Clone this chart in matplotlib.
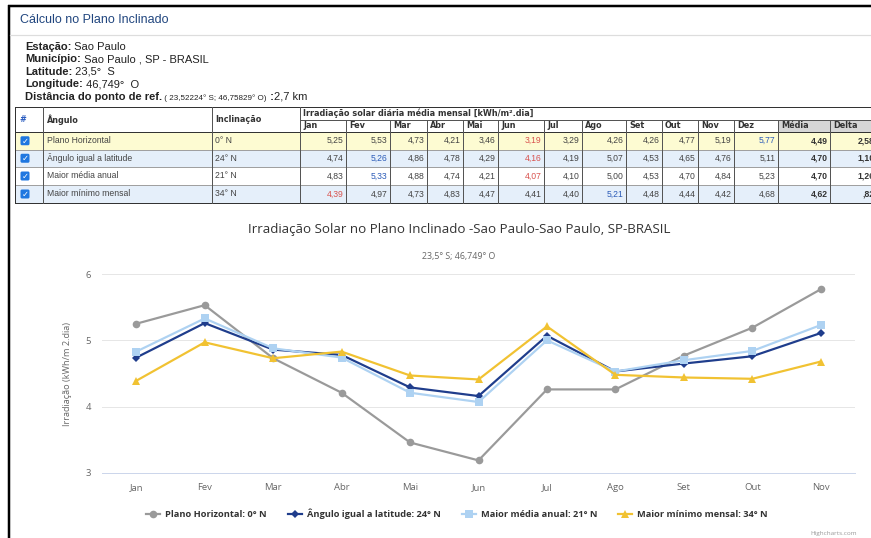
# -*- coding: utf-8 -*-
"""Cálculo no Plano Inclinado - tabela + gráfico de irradiação (Sao Paulo)."""

import matplotlib
matplotlib.use("Agg")
import matplotlib.pyplot as plt
from matplotlib.patches import Rectangle, FancyBboxPatch
import numpy as np

W, H, DPI = 871, 538, 100
PX = 72 / DPI  # 1 px em pontos

# ---------------- dados da tabela ----------------
MESES = ["Jan", "Fev", "Mar", "Abr", "Mai", "Jun", "Jul", "Ago", "Set",
         "Out", "Nov", "Dez"]
ANGULOS = ["Plano Horizontal", "Ângulo igual a latitude",
           "Maior média anual", "Maior mínimo mensal"]
INCLINACOES = ["0° N", "24° N", "21° N", "34° N"]
TAB_HORIZ = [5.25, 5.53, 4.73, 4.21, 3.46, 3.19, 3.29, 4.26, 4.26, 4.77, 5.19, 5.77]
TAB_LAT = [4.74, 5.26, 4.86, 4.78, 4.29, 4.16, 4.19, 5.07, 4.53, 4.65, 4.76, 5.11]
TAB_MEDIA = [4.83, 5.33, 4.88, 4.74, 4.21, 4.07, 4.10, 5.00, 4.53, 4.70, 4.84, 5.23]
TAB_MIN = [4.39, 4.97, 4.73, 4.83, 4.47, 4.41, 4.40, 5.21, 4.48, 4.44, 4.42, 4.68]
MEDIAS = [4.49, 4.70, 4.70, 4.62]
DELTAS = [2.58, 1.10, 1.26, 0.82]

# ---------------- dados do gráfico ----------------
MESES_GRAF = ["Jan", "Fev", "Mar", "Abr", "Mai", "Jun", "Jul", "Ago", "Set",
              "Out", "Nov"]
GRAF_HORIZ = [5.25, 5.53, 4.73, 4.21, 3.46, 3.19, 4.26, 4.26, 4.77, 5.19, 5.77]
GRAF_LAT = [4.74, 5.26, 4.86, 4.78, 4.29, 4.16, 5.07, 4.53, 4.65, 4.76, 5.11]
GRAF_MEDIA = [4.83, 5.33, 4.88, 4.74, 4.21, 4.07, 5.00, 4.53, 4.70, 4.84, 5.23]
GRAF_MIN = [4.39, 4.97, 4.73, 4.83, 4.47, 4.41, 5.21, 4.48, 4.44, 4.42, 4.68]
LEGENDA = ["Plano Horizontal: 0° N", "Ângulo igual a latitude: 24° N",
           "Maior média anual: 21° N", "Maior mínimo mensal: 34° N"]

CINZA = "#9a9a9a"
AZUL_ESC = "#1f3d8c"
AZUL_CLA = "#aed2f2"
OURO = "#f1c232"
TEXTO = "#333333"
TEXTO2 = "#666666"
AZUL_MAX = "#2c5cb8"
VERM_MIN = "#d9534f"

FONTE_PAG = "Liberation Sans"
FONTE_TAB = "DejaVu Sans"
FONTE_GRAF = "Open Sans"

COLS = [15, 43, 212, 300, 346, 390, 427, 463, 498, 544, 582, 626, 662, 698,
        734, 778, 830, 877]
TOPO, MEIO, FIM_CAB = 107, 119.5, 132
LINHAS = [132, 149.5, 167, 185, 203]
FUNDOS = ["#fdfbd2", "#e5effa", "#ffffff", "#e5effa"]


def num(v):
    s = f"{v:.2f}".replace(".", ",")
    return s[1:] if s.startswith("0") else s


def linha_texto(ax, x, y, partes):
    """partes: lista de (texto, peso, tamanho) encadeadas na mesma linha."""
    prev = None
    for txt, peso, tam in partes:
        kw = dict(fontsize=tam, fontweight=peso, color="#222222",
                  family=FONTE_PAG, va="bottom", ha="left")
        if prev is None:
            prev = ax.text(x, y, txt, **kw)
        else:
            prev = ax.annotate(txt, xy=(1, 0), xycoords=prev, **kw)


def main() -> None:
    fig = plt.figure(figsize=(W / DPI, H / DPI), dpi=DPI, facecolor="white")
    pag = fig.add_axes([0, 0, 1, 1])
    pag.set_xlim(0, W)
    pag.set_ylim(H, 0)
    pag.set_axis_off()

    # moldura da página
    pag.plot([9, 9], [5, H], color="black", lw=2.5 * PX, solid_capstyle="butt")
    pag.plot([8, W], [6, 6], color="black", lw=2.5 * PX, solid_capstyle="butt")
    pag.plot([10, W], [35, 35], color="#dddddd", lw=1.2 * PX)

    pag.text(20, 20, "Cálculo no Plano Inclinado", fontsize=9, color="#21467f",
             family=FONTE_PAG, va="center", ha="left")

    info = [
        [("Estação:", "bold", 8), (" Sao Paulo", "normal", 8)],
        [("Município:", "bold", 8), (" Sao Paulo , SP - BRASIL", "normal", 8)],
        [("Latitude:", "bold", 8), (" 23,5°  S", "normal", 8)],
        [("Longitude:", "bold", 8), (" 46,749°  O", "normal", 8)],
        [("Distância do ponto de ref.", "bold", 8),
         (" ( 23,52224° S; 46,75829° O)", "normal", 5.8),
         (" :", "bold", 8), ("2,7 km", "normal", 8)],
    ]
    for i, partes in enumerate(info):
        linha_texto(pag, 25, 52 + i * 12.4, partes)

    # ---------------- tabela ----------------
    x0, x1 = COLS[0], COLS[-1]
    pag.add_patch(Rectangle((x0, TOPO), x1 - x0, FIM_CAB - TOPO,
                            facecolor="white", edgecolor="none"))
    for c in (15, 16):
        pag.add_patch(Rectangle((COLS[c], MEIO), COLS[c + 1] - COLS[c],
                                FIM_CAB - MEIO, facecolor="#d6d6d6",
                                edgecolor="none"))
    for r in range(4):
        pag.add_patch(Rectangle((x0, LINHAS[r]), x1 - x0,
                                LINHAS[r + 1] - LINHAS[r],
                                facecolor=FUNDOS[r], edgecolor="none"))

    esc = "#555555"
    lw = 1 * PX
    pag.plot([x0, x1], [TOPO, TOPO], color="#333333", lw=lw)
    pag.plot([COLS[3], x1], [MEIO, MEIO], color=esc, lw=lw)
    pag.plot([x0, x1], [FIM_CAB, FIM_CAB], color="#333333", lw=lw)
    for y in LINHAS[1:-1]:
        pag.plot([x0, x1], [y, y], color="#a0a0a0", lw=lw)
    pag.plot([x0, x1], [LINHAS[-1], LINHAS[-1]], color="#333333", lw=lw)
    for i, x in enumerate(COLS[:-1]):
        ytop = TOPO if i <= 3 else MEIO
        pag.plot([x, x], [ytop, LINHAS[-1]], color=esc if i else "#333333",
                 lw=lw)

    cab = dict(fontsize=5.9, fontweight="bold", color=TEXTO, family=FONTE_TAB,
               va="center", ha="left")
    pag.text(19, (TOPO + FIM_CAB) / 2, "#", **{**cab, "color": "#2a5cc0"})
    pag.text(COLS[1] + 4, (TOPO + FIM_CAB) / 2, "Ângulo", **cab)
    pag.text(COLS[2] + 3, (TOPO + FIM_CAB) / 2, "Inclinação", **cab)
    pag.text(COLS[3] + 3, (TOPO + MEIO) / 2 - 0.5,
             "Irradiação solar diária média mensal [kWh/m².dia]", **cab)
    for j, m in enumerate(MESES + ["Média", "Delta"]):
        pag.text(COLS[3 + j] + 3, (MEIO + FIM_CAB) / 2, m, **cab)

    celula = dict(fontsize=6.2, color="#444444", family=FONTE_PAG, va="center")
    tabela = [TAB_HORIZ, TAB_LAT, TAB_MEDIA, TAB_MIN]
    for r, vals in enumerate(tabela):
        yc = (LINHAS[r] + LINHAS[r + 1]) / 2
        pag.add_patch(FancyBboxPatch((20.5, yc - 4.5), 9, 9,
                                     boxstyle="round,pad=0,rounding_size=1.5",
                                     facecolor="#1f77e0", edgecolor="none"))
        pag.text(25, yc + 0.3, "✓", fontsize=6, color="white",
                 fontweight="bold", family="DejaVu Sans", ha="center",
                 va="center")
        pag.text(COLS[1] + 4, yc, ANGULOS[r], ha="left", **celula)
        pag.text(COLS[2] + 3, yc, INCLINACOES[r], ha="left", **celula)
        imax, imin = int(np.argmax(vals)), int(np.argmin(vals))
        for j, v in enumerate(vals):
            cor = AZUL_MAX if j == imax else VERM_MIN if j == imin else "#444444"
            pag.text(COLS[4 + j] - 2.5, yc, num(v), ha="right",
                     **{**celula, "color": cor})
        pag.text(COLS[16] - 2.5, yc, num(MEDIAS[r]), ha="right",
                 **{**celula, "fontweight": "bold", "color": TEXTO})
        pag.text(COLS[17] - 2.5, yc, num(DELTAS[r]), ha="right",
                 **{**celula, "fontweight": "bold", "color": TEXTO})

    # ---------------- gráfico ----------------
    ax = fig.add_axes([102 / W, 65 / H, 753 / W, 199 / H])
    ax.set_facecolor("none")
    x = np.arange(len(MESES_GRAF))
    series = [(GRAF_HORIZ, CINZA, "o", 5.5), (GRAF_LAT, AZUL_ESC, "D", 4.2),
              (GRAF_MEDIA, AZUL_CLA, "s", 5.5), (GRAF_MIN, OURO, "^", 5.5)]
    handles = []
    for (vals, cor, mk, ms), rot in zip(series, LEGENDA):
        h, = ax.plot(x, vals, color=cor, lw=2.2 * PX, marker=mk, ms=ms,
                     markeredgewidth=0, label=rot, clip_on=False)
        handles.append(h)

    ax.set_xlim(-0.5, 10.5)
    ax.set_ylim(3, 6)
    ax.set_yticks([3, 4, 5, 6])
    ax.set_xticks(x)
    ax.set_xticklabels(MESES_GRAF)
    for lado in ("top", "right", "left"):
        ax.spines[lado].set_visible(False)
    ax.spines["bottom"].set_color("#ccd6eb")
    ax.spines["bottom"].set_linewidth(1 * PX)
    ax.yaxis.grid(True, color="#e6e6e6", linewidth=1 * PX)
    ax.set_axisbelow(True)
    ax.tick_params(axis="both", length=0, colors=TEXTO2, labelsize=6.8)
    ax.tick_params(axis="y", pad=8)
    ax.tick_params(axis="x", pad=7)
    for t in ax.get_xticklabels() + ax.get_yticklabels():
        t.set_family(FONTE_GRAF)
    ax.set_ylabel("Irradiação (kWh/m 2.dia)", fontsize=6.6, color=TEXTO2,
                  family=FONTE_GRAF)
    ax.yaxis.set_label_coords(-0.040, 0.5)

    fig.text(459 / W, 1 - 230 / H,
             "Irradiação Solar no Plano Inclinado -Sao Paulo-Sao Paulo, SP-BRASIL",
             fontsize=9.6, color=TEXTO, family=FONTE_GRAF, ha="center",
             va="center")
    fig.text(459 / W, 1 - 256 / H, "23,5° S; 46,749° O", fontsize=6.4,
             color=TEXTO2, family=FONTE_GRAF, ha="center", va="center")

    leg = fig.legend(handles=handles, loc="center",
                     bbox_to_anchor=(457 / W, 1 - 514 / H), ncol=4,
                     frameon=False, handlelength=1.5, handletextpad=0.5,
                     columnspacing=2.3,
                     prop=dict(family=FONTE_GRAF, weight="bold", size=6.7))
    for t in leg.get_texts():
        t.set_color(TEXTO)

    fig.text(857 / W, 1 - 533 / H, "Highcharts.com", fontsize=4.6,
             color="#999999", family=FONTE_GRAF, ha="right", va="center")

    fig.savefig("out.png", dpi=DPI, facecolor="white")


if __name__ == "__main__":
    main()
